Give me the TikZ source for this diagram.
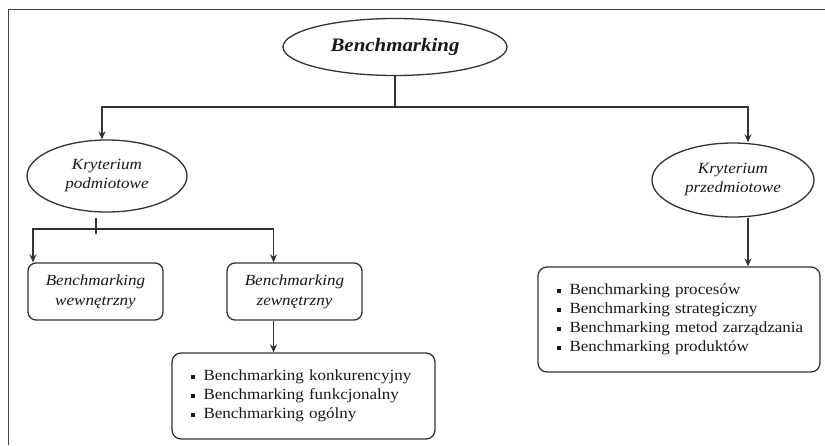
\documentclass[tikz,border=0pt]{standalone}
\usepackage{fontspec}
\setmainfont{Liberation Serif}[FakeStretch=1.1]
\usetikzlibrary{shapes.geometric,arrows.meta}
\newcommand\sqb{\raisebox{0.3ex}{\rule{4pt}{4pt}}\hspace{8.5pt}}
\begin{document}
\begin{tikzpicture}[x=1pt,y=-1pt,
  ln/.style={draw=black!80,line width=1.3pt},
  arr/.style={ln,-{Stealth[length=8pt,width=7pt]}},
  ell/.style={ellipse,ln,inner sep=0pt,align=center,text=black!90},
  crit/.style={ell,font=\fontsize{15.5}{19}\selectfont\itshape},
  rbox/.style={rectangle,rounded corners=8pt,ln,inner sep=0pt,align=center,text=black!90,
    font=\fontsize{15.5}{20}\selectfont\itshape},
  lbox/.style={rectangle,rounded corners=9pt,ln,inner xsep=19pt,inner ysep=0pt,align=left,text=black!90,
    font=\fontsize{15.5}{19}\selectfont}]
\useasboundingbox (0,0) rectangle (825,445);
\fill[white] (0,0) rectangle (825,445);
\draw[black!75,line width=1pt] (8,445) -- (8,9) -- (825,9);

\node[ell,minimum width=224pt,minimum height=57pt,font=\fontsize{19}{22}\selectfont\bfseries\itshape] (top) at (395,47) {Benchmarking};
\node[crit,minimum width=160pt,minimum height=72pt] (kpod) at (107,176) {Kryterium\\podmiotowe};
\node[crit,minimum width=162pt,minimum height=74pt] (kprz) at (733,180) {Kryterium\\przedmiotowe};
\node[rbox,minimum width=135pt,minimum height=57pt] (bw) at (95.5,291.5) {Benchmarking\\wewnętrzny};
\node[rbox,minimum width=135pt,minimum height=57pt] (bz) at (294.5,291.5) {Benchmarking\\zewnętrzny};
\node[lbox,text width=225pt,minimum height=86pt] (bk) at (303.5,396) {\begin{tabular}{@{}l@{}}\sqb Benchmarking konkurencyjny\\\sqb Benchmarking funkcjonalny\\\sqb Benchmarking ogólny\end{tabular}};
\node[lbox,text width=244pt,minimum height=105pt] (bp) at (679,319.5) {\begin{tabular}{@{}l@{}}\sqb Benchmarking procesów\\\sqb Benchmarking strategiczny\\\sqb Benchmarking metod zarządzania\\\sqb Benchmarking produktów\end{tabular}};

\coordinate (j1) at (395,107);
\draw[ln] (top.south) -- (j1);
\draw[arr] (j1) -| ([xshift=-5pt]kpod.north);
\draw[arr] (j1) -| ([xshift=15pt]kprz.north);

\coordinate (j2) at (96,229);
\coordinate (t1) at (96,218);
\coordinate (t2) at (96,234);
\draw[ln] (t1) -- (t2);
\draw[arr] (j2) -| ([xshift=-62.5pt]bw.north);
\draw[arr] (j2) -| ([xshift=-21pt]bz.north);

\coordinate (z1) at ([xshift=-21pt]bz.south);
\draw[arr] (z1) -- (z1 |- bk.north);

\coordinate (r1) at ([xshift=15pt]kprz.south);
\draw[arr] (r1) -- (r1 |- bp.north);
\end{tikzpicture}
\end{document}
